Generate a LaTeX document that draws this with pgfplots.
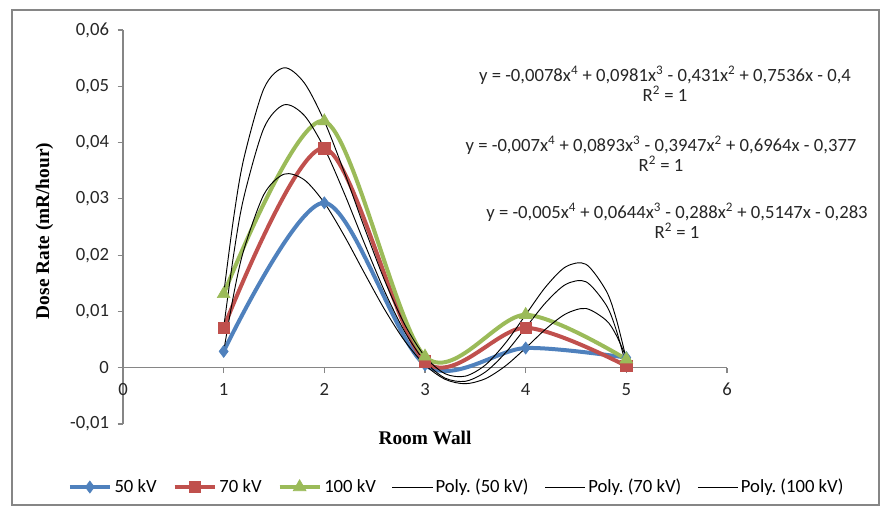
\documentclass[border=0pt]{standalone}
\usepackage{fontspec}
\setmainfont{Carlito}
\newfontfamily\timesfont{Liberation Serif}
\usepackage{pgfplots}
\pgfplotsset{compat=1.18}
\definecolor{xlblue}{HTML}{4F81BD}
\definecolor{xlred}{HTML}{C0504D}
\definecolor{xlgreen}{HTML}{9BBB59}
\definecolor{xlgray}{HTML}{868686}
\frenchspacing

\begin{document}
\begin{tikzpicture}
\begin{scope}[x=0.75pt,y=-0.75pt]
  \path[use as bounding box] (0,0) rectangle (882,508);
  \draw[xlgray,line width=1pt] (12,10) rectangle (879,505);
\end{scope}
\begin{axis}[at={(92.25pt,-318pt)},anchor=south west,
  width=453pt,height=295.5pt,scale only axis,
  xmin=0,xmax=6,ymin=-0.01,ymax=0.06,
  axis x line=middle,axis y line=left,
  hide obscured x ticks=false,
  axis line style={xlgray,line width=0.8pt,-},
  xtick={0,1,2,3,4,5,6},
  xticklabels={0,1,2,3,4,5,6},
  ytick={-0.01,0,0.01,0.02,0.03,0.04,0.05,0.06},
  yticklabels={{-0,01},{0},{0,01},{0,02},{0,03},{0,04},{0,05},{0,06}},
  scaled y ticks=false,
  tick align=outside,major tick length=4pt,
  tick style={xlgray,line width=0.8pt},
  ticklabel style={font=\fontsize{14}{16}\selectfont,text=black!85},
  xticklabel style={yshift=-4pt},
  yticklabel style={xshift=-3pt},
  xlabel={\timesfont\bfseries Room Wall},
  ylabel={\timesfont\bfseries Dose Rate (mR/hour)},
  label style={font=\fontsize{14.5}{17}\selectfont},
  xlabel style={at={(axis description cs:0.5,-0.0355)},anchor=center},
  ylabel style={at={(axis description cs:-0.13,0.49)},anchor=center},
  legend columns=6,
  legend style={at={(0.553,-0.16)},anchor=center,draw=none,
    font=\fontsize{14}{16}\selectfont,
    /tikz/every even column/.append style={column sep=10pt}},
  legend image code/.code={\draw[mark repeat=2,mark phase=2] plot coordinates {(0pt,0pt)(15pt,0pt)(30pt,0pt)};},
  clip=false]
\addplot[xlblue,line width=3pt,smooth,mark=diamond*,mark size=4.5pt,mark options={line width=0.5pt}]
  coordinates {(1,0.0029)(2,0.0293)(3,0.0005)(4,0.0035)(5,0.0018)};
\addplot[xlred,line width=3pt,smooth,mark=square*,mark size=4.3pt,mark options={line width=0.5pt}]
  coordinates {(1,0.0071)(2,0.0390)(3,0.0011)(4,0.0071)(5,0.0003)};
\addplot[xlgreen,line width=3pt,smooth,mark=triangle*,mark size=5.5pt,mark options={line width=0.5pt}]
  coordinates {(1,0.0131)(2,0.0438)(3,0.0020)(4,0.0094)(5,0.0015)};
\addplot[black,line width=0.7pt,smooth,mark=none] coordinates {
  (1,0.0029)(1.1,0.01306)(1.2,0.02092)(1.4,0.03079)(1.6,0.03439)(1.8,0.03339)
  (2,0.0293)(2.2,0.02339)(2.4,0.01676)(2.6,0.01031)(2.8,0.00472)(3,0.0005)
  (3.2,-0.00206)(3.4,-0.00284)(3.6,-0.00195)(3.8,0.00033)(4,0.0035)(4.2,0.00688)
  (4.4,0.00958)(4.6,0.01052)(4.8,0.00842)(4.9,0.00578)(5,0.0018)};
\addplot[black,line width=0.7pt,smooth,mark=none] coordinates {
  (1,0.0071)(1.1,0.02019)(1.2,0.03025)(1.4,0.04260)(1.6,0.04671)(1.8,0.04484)
  (2,0.0390)(2.2,0.03091)(2.4,0.02203)(2.6,0.01354)(2.8,0.00635)(3,0.0011)
  (3.2,-0.00185)(3.4,-0.00241)(3.6,-0.00076)(3.8,0.00266)(4,0.0071)(4.2,0.01158)
  (4.4,0.01482)(4.6,0.01527)(4.8,0.01113)(4.9,0.00669)(5,0.0003)};
\addplot[black,line width=0.7pt,smooth,mark=none] coordinates {
  (1,0.0131)(1.1,0.02675)(1.2,0.03714)(1.4,0.04962)(1.6,0.05329)(1.8,0.05063)
  (2,0.0438)(2.2,0.03467)(2.4,0.02479)(2.6,0.01546)(2.8,0.00764)(3,0.0020)
  (3.2,-0.00107)(3.4,-0.00150)(3.6,0.00049)(3.8,0.00440)(4,0.0094)(4.2,0.01439)
  (4.4,0.01795)(4.6,0.01837)(4.8,0.01366)(4.9,0.00866)(5,0.0015)};
\legend{50 kV,70 kV,100 kV,Poly. (50 kV),Poly. (70 kV),Poly. (100 kV)}
\end{axis}
\begin{scope}[x=0.75pt,y=-0.75pt,every node/.style={font=\fontsize{14}{16}\selectfont,text=black!85,inner sep=0pt}]
  \node at (665,75) {y = -0,0078x\textsuperscript{4} + 0,0981x\textsuperscript{3} - 0,431x\textsuperscript{2} + 0,7536x - 0,4};
  \node at (665,94) {R\textsuperscript{2} = 1};
  \node at (661,145) {y = -0,007x\textsuperscript{4} + 0,0893x\textsuperscript{3} - 0,3947x\textsuperscript{2} + 0,6964x - 0,377};
  \node at (661,164) {R\textsuperscript{2} = 1};
  \node at (677,212) {y = -0,005x\textsuperscript{4} + 0,0644x\textsuperscript{3} - 0,288x\textsuperscript{2} + 0,5147x - 0,283};
  \node at (677,231) {R\textsuperscript{2} = 1};
\end{scope}
\end{tikzpicture}
\end{document}
